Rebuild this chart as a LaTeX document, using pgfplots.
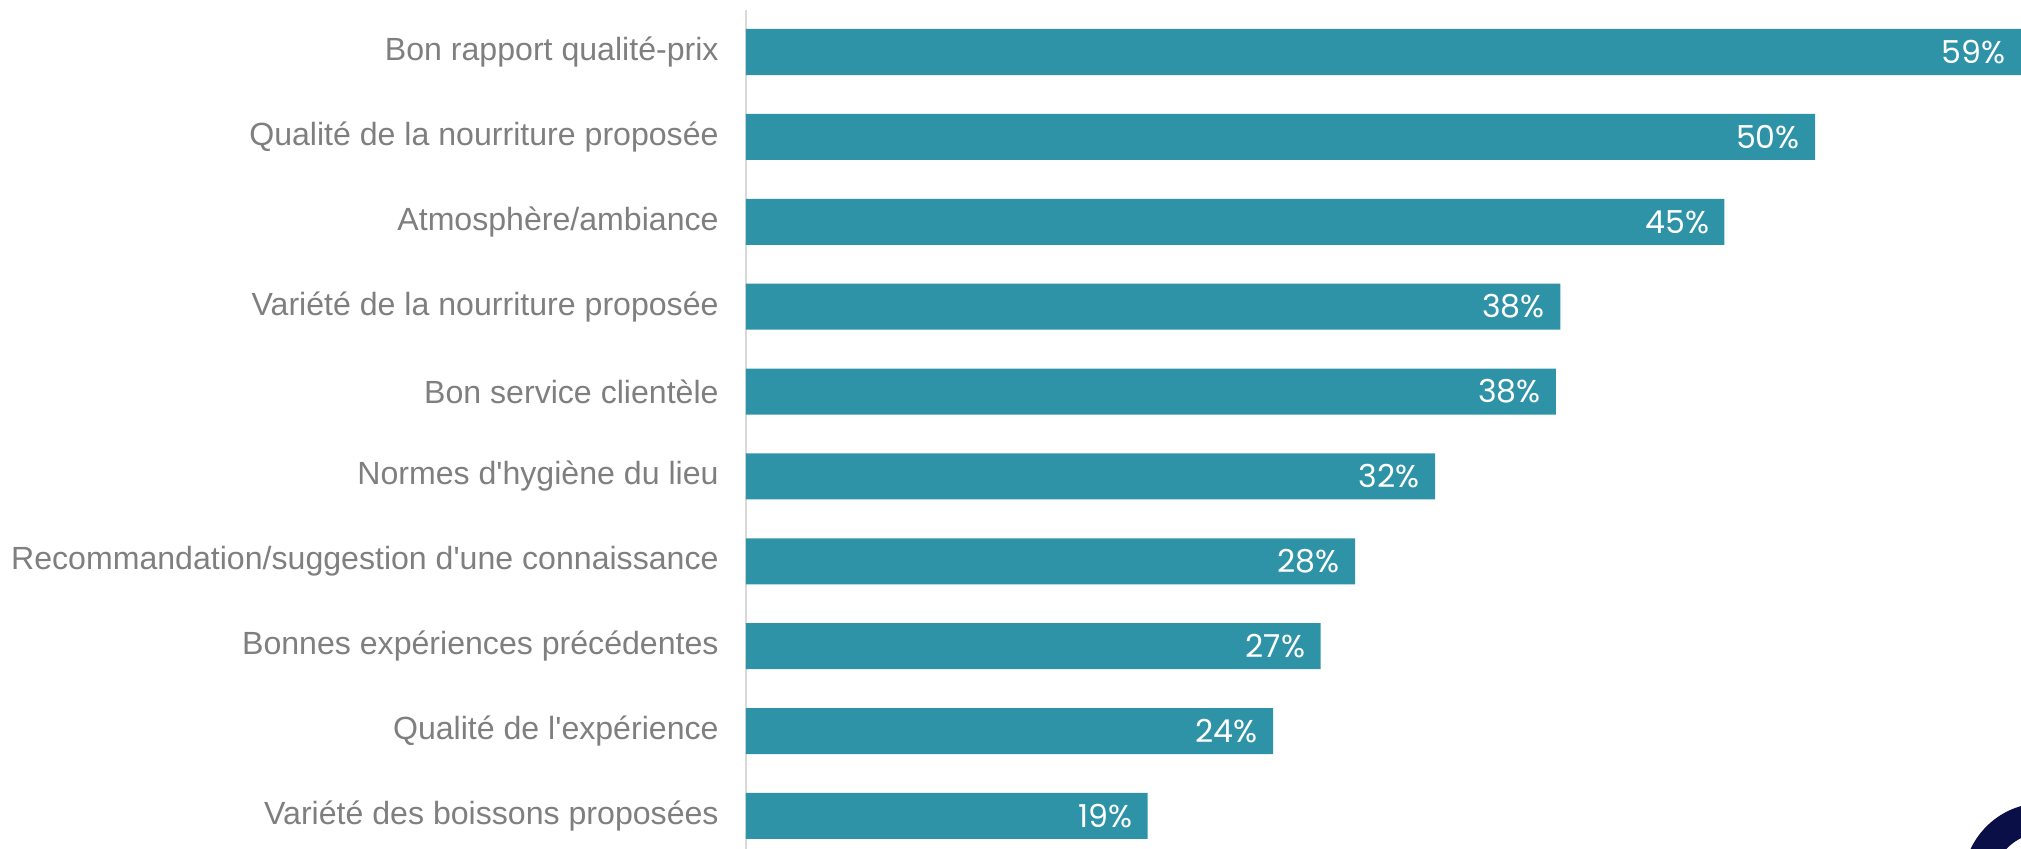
\documentclass[border=0pt]{standalone}
\usepackage{pgfplots}
\pgfplotsset{compat=1.18}
\usepackage{pgfplotstable}
\usepackage{fontspec}
\setmainfont{Liberation Sans}
\newfontfamily\valfont{Poppins}
\definecolor{barc}{HTML}{2E93A7}
\definecolor{labgray}{HTML}{7F7F7F}
\definecolor{axgray}{HTML}{D9D9D9}
\definecolor{navy}{HTML}{0A0F48}
\pgfplotstableread{
y v lab
9 59.03 59
8 49.5 50
7 45.3 45
6 37.7 38
5 37.5 38
4 31.9 32
3 28.2 28
2 26.6 27
1 24.4 24
0 18.6 19
}\datatab
\begin{document}
\begin{tikzpicture}[x=1pt,y=1pt]
\useasboundingbox (-373,0) rectangle (637.5,424.5);
\begin{axis}[
  at={(0,0)}, anchor=south west,
  scale only axis, width=637.5pt, height=419.5pt,
  xbar, bar width=23pt,
  xmin=0, xmax=59.03,
  ymin=-0.389, ymax=9.495,
  axis lines*=left,
  x axis line style={draw=none},
  y axis line style={draw=axgray, line width=1pt},
  xtick=\empty,
  ytick={0,...,9},
  yticklabels={Variété des boissons proposées,
    Qualité de l\textquotesingle expérience,
    Bonnes expériences précédentes,
    Recommandation/suggestion d\textquotesingle une connaissance,
    Normes d\textquotesingle hygiène du lieu,
    Bon service clientèle,
    Variété de la nourriture proposée,
    Atmosphère/ambiance,
    Qualité de la nourriture proposée,
    Bon rapport qualité-prix},
  major tick length=0pt,
  yticklabel style={font=\fontsize{16.05}{18}\selectfont, text=labgray, inner sep=0pt, xshift=-13.5pt},
  nodes near coords={\pgfplotspointmeta\%},
  point meta=explicit symbolic,
  nodes near coords style={anchor=east, xshift=-7.5pt, text=white, inner sep=0pt, font=\valfont\fontsize{15.8}{18}\selectfont},
]
\addplot[fill=barc, draw=none] table[x=v, y=y, meta=lab] {\datatab};
\end{axis}
\begin{scope}
\clip (-373,0) rectangle (637.5,424.5);
\fill[navy, even odd rule] (648.5,-17) circle (40) (648.5,-17) circle (25);
\end{scope}
\end{tikzpicture}
\end{document}
